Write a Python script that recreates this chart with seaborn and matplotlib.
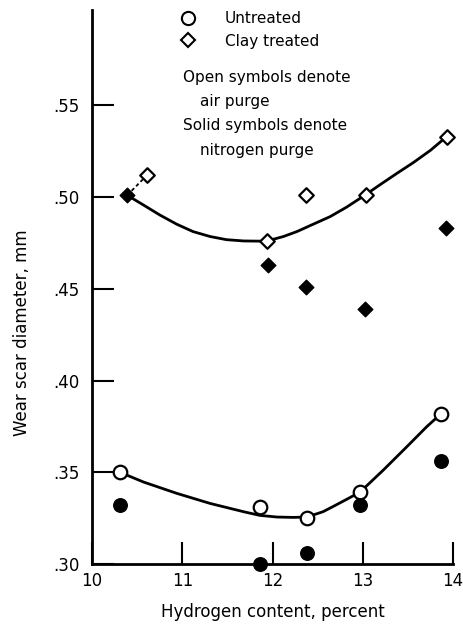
import matplotlib
matplotlib.use("Agg")
import matplotlib.pyplot as plt
from matplotlib.lines import Line2D
import seaborn as sns
import pandas as pd

untreated_x = [10.31, 11.86, 12.38, 12.97, 13.87]
untreated_air = [0.350, 0.331, 0.325, 0.339, 0.382]
untreated_n2 = [0.332, 0.300, 0.306, 0.332, 0.356]

clay_air_x = [10.61, 11.94, 12.37, 13.04, 13.93]
clay_air = [0.512, 0.476, 0.501, 0.501, 0.533]
clay_n2_x = [10.39, 11.95, 12.37, 13.03, 13.92]
clay_n2 = [0.501, 0.463, 0.451, 0.439, 0.483]

# Faired curves
untreated_curve_x = [10.31, 10.57, 10.94, 11.31, 11.68, 11.86, 12.05, 12.23, 12.38,
                     12.56, 12.67, 12.82, 12.97, 13.23, 13.49, 13.71, 13.87]
untreated_curve_y = [0.350, 0.3447, 0.3385, 0.3330, 0.3285, 0.3265, 0.3256, 0.3254, 0.3256,
                     0.3285, 0.3313, 0.3352, 0.3392, 0.3513, 0.364, 0.3749, 0.382]
clay_curve_x = [10.39, 10.57, 10.75, 10.94, 11.12, 11.31, 11.49, 11.68, 11.86, 11.94,
                12.12, 12.27, 12.45, 12.64, 12.82, 13.01, 13.19, 13.38, 13.56, 13.75, 13.93]
clay_curve_y = [0.501, 0.4957, 0.4903, 0.4852, 0.4812, 0.4785, 0.4768, 0.4761, 0.4760, 0.4761,
                0.4785, 0.4812, 0.4852, 0.4894, 0.4945, 0.5006, 0.5067, 0.513, 0.5188, 0.5255, 0.533]

# dashed tie between the two clay points at ~10.5 percent
tie_x = [10.39, 10.61]
tie_y = [0.501, 0.512]

x_ticks = [10, 11, 12, 13, 14]
y_ticks = [0.30, 0.35, 0.40, 0.45, 0.50, 0.55]
y_tick_labels = [".30", ".35", ".40", ".45", ".50", ".55"]

sns.set_style("ticks")
plt.rcParams["font.family"] = ["DejaVu Sans"]
plt.rcParams["font.size"] = 11
plt.rcParams["text.color"] = "black"
plt.rcParams["axes.labelcolor"] = "black"
plt.rcParams["xtick.color"] = "black"
plt.rcParams["ytick.color"] = "black"
plt.rcParams["axes.edgecolor"] = "black"

fig = plt.figure(figsize=(4.63, 6.29), dpi=100)
ax = fig.add_axes([92 / 463, 1 - 564 / 629, 361 / 463, 554 / 629])

lw = 2.0
sns.lineplot(x=untreated_curve_x, y=untreated_curve_y, ax=ax, color="black", lw=lw, sort=False, zorder=2)
sns.lineplot(x=clay_curve_x, y=clay_curve_y, ax=ax, color="black", lw=lw, sort=False, zorder=2)
ax.plot(tie_x, tie_y, color="black", lw=1.3, ls=(0, (2, 1.5)), zorder=2)

pts = pd.DataFrame({"x": untreated_x, "air": untreated_air, "n2": untreated_n2})
sns.scatterplot(data=pts, x="x", y="air", ax=ax, marker="o", s=95, facecolor="white",
                edgecolor="black", linewidth=1.6, zorder=3, clip_on=False)
sns.scatterplot(data=pts, x="x", y="n2", ax=ax, marker="o", s=95, color="black",
                edgecolor="black", linewidth=1.0, zorder=3, clip_on=False)
sns.scatterplot(x=clay_air_x, y=clay_air, ax=ax, marker="D", s=55, facecolor="white",
                edgecolor="black", linewidth=1.6, zorder=3, clip_on=False)
sns.scatterplot(x=clay_n2_x, y=clay_n2, ax=ax, marker="D", s=55, color="black",
                edgecolor="black", linewidth=1.0, zorder=3, clip_on=False)

ax.set_xlim(10, 14)
ax.set_ylim(0.30, 0.602)
ax.set_xticks(x_ticks)
ax.set_xticklabels([str(t) for t in x_ticks])
ax.set_yticks(y_ticks)
ax.set_yticklabels(y_tick_labels)
ax.tick_params(axis="both", direction="in", length=16, width=1.5, labelsize=12)
ax.tick_params(axis="y", pad=9)
ax.tick_params(axis="x", pad=6)
sns.despine(ax=ax)
for side in ["left", "bottom"]:
    ax.spines[side].set_linewidth(2.0)

ax.set_xlabel("Hydrogen content, percent", fontsize=12)
ax.set_ylabel("Wear scar diameter, mm", fontsize=12)
ax.xaxis.set_label_coords(0.5, -0.07)
ax.yaxis.set_label_coords(-0.168, 0.417)

handles = [
    Line2D([], [], ls="none", marker="o", ms=9.5, mfc="white", mec="black", mew=1.5),
    Line2D([], [], ls="none", marker="D", ms=7, mfc="white", mec="black", mew=1.5),
]
ax.legend(handles, ["Untreated", "Clay treated"], loc="upper left",
          bbox_to_anchor=(0.2457, 0.998), frameon=False, borderaxespad=0,
          borderpad=0, handlelength=1.0, handletextpad=1.9, labelspacing=0.5,
          fontsize=11)

note = [("Open symbols denote", 0.252, 0.879), ("air purge", 0.299, 0.8345),
        ("Solid symbols denote", 0.252, 0.7924), ("nitrogen purge", 0.299, 0.747)]
for txt, tx, ty in note:
    ax.text(tx, ty, txt, transform=ax.transAxes, ha="left", va="center", fontsize=11)

fig.savefig("out.png", dpi=100)
